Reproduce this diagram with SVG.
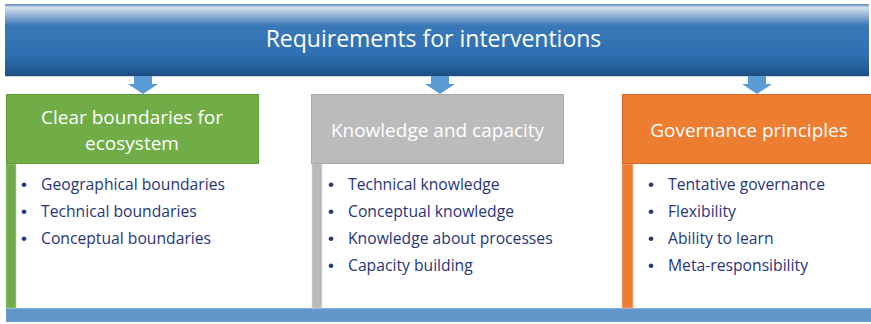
<svg xmlns="http://www.w3.org/2000/svg" width="871" height="324" viewBox="0 0 871 324">
  <defs>
    <linearGradient id="bannerGrad" x1="0" y1="0" x2="0" y2="1">
      <stop offset="0" stop-color="#5a86b8"/>
      <stop offset="0.05" stop-color="#d6e2ef"/>
      <stop offset="0.12" stop-color="#a9c2de"/>
      <stop offset="0.3" stop-color="#3a78b8"/>
      <stop offset="0.7" stop-color="#2f70b2"/>
      <stop offset="0.9" stop-color="#255d98"/>
      <stop offset="1" stop-color="#1d4c7f"/>
    </linearGradient>
    <style>
      .head { font-family: "Open Sans", "Liberation Sans", sans-serif; fill: #ffffff; text-anchor: middle; font-size: 19px; }
      .item { font-family: "Open Sans", "Liberation Sans", sans-serif; font-size: 15.7px; fill: #26357a; }
      .dot { font-family: "Liberation Sans", sans-serif; font-size: 17px; fill: #26357a; }
      .panel { fill: #ffffff; }
      .arrow { fill: #5b9bd5; }
    </style>
  </defs>

  <rect width="871" height="324" fill="#ffffff"/>

  <g id="banner">
    <rect x="5" y="4" width="864" height="72" fill="url(#bannerGrad)"/>
    <line x1="5" y1="76.5" x2="869" y2="76.5" stroke="#c9d9ea" stroke-width="1"/>
    <text class="head" x="433.5" y="47" font-size="23" style="font-size:23px">Requirements for interventions</text>
  </g>

  <g id="connectors">
    <polygon class="arrow" points="134,76 152,76 152,84 158,84 143,94 128,84 134,84"/>
    <polygon class="arrow" points="431,76 449,76 449,84 455,84 440,94 425,84 431,84"/>
    <polygon class="arrow" points="748,76 766,76 766,84 772,84 757,94 742,84 748,84"/>
  </g>

  <g id="bottom-bar">
    <rect x="6" y="308" width="865" height="14" fill="#6297cb"/>
    <line x1="6" y1="308" x2="871" y2="308" stroke="#a9c4e2" stroke-width="1"/>
  </g>

  <g id="node-boundaries">
    <rect class="panel" x="16" y="164" width="295" height="144"/>
    <rect x="6" y="164" width="10" height="144" fill="#70ad47" stroke="#b8d4a6" stroke-width="0.6"/>
    <rect x="6.5" y="94.5" width="252" height="69" fill="#70ad47" stroke="#5f9a3b" stroke-width="1"/>
    <text class="head" x="132" y="124">Clear boundaries for</text>
    <text class="head" x="132" y="150">ecosystem</text>
    <text class="dot" x="21" y="190">•</text>
    <text class="item" x="41" y="190">Geographical boundaries</text>
    <text class="dot" x="21" y="217">•</text>
    <text class="item" x="41" y="217">Technical boundaries</text>
    <text class="dot" x="21" y="244">•</text>
    <text class="item" x="41" y="244">Conceptual boundaries</text>
  </g>

  <g id="node-knowledge">
    <rect class="panel" x="322" y="164" width="300" height="144"/>
    <rect x="312" y="164" width="10" height="144" fill="#b9b9b9" stroke="#dcdcdc" stroke-width="0.6"/>
    <rect x="311.5" y="94.5" width="252" height="69" fill="#bbbbbb" stroke="#a8a8a8" stroke-width="1"/>
    <text class="head" x="437.5" y="137">Knowledge and capacity</text>
    <text class="dot" x="328" y="190">•</text>
    <text class="item" x="348" y="190">Technical knowledge</text>
    <text class="dot" x="328" y="217">•</text>
    <text class="item" x="348" y="217">Conceptual knowledge</text>
    <text class="dot" x="328" y="244">•</text>
    <text class="item" x="348" y="244">Knowledge about processes</text>
    <text class="dot" x="328" y="271">•</text>
    <text class="item" x="348" y="271">Capacity building</text>
  </g>

  <g id="node-governance">
    <rect class="panel" x="633" y="164" width="240" height="144"/>
    <rect x="622" y="164" width="11" height="144" fill="#ed7d31" stroke="#f3c7a6" stroke-width="0.6"/>
    <rect x="622.5" y="94.5" width="250" height="69" fill="#ed7d31" stroke="#d4692a" stroke-width="1"/>
    <text class="head" x="749" y="137">Governance principles</text>
    <text class="dot" x="648" y="190">•</text>
    <text class="item" x="668" y="190">Tentative governance</text>
    <text class="dot" x="648" y="217">•</text>
    <text class="item" x="668" y="217">Flexibility</text>
    <text class="dot" x="648" y="244">•</text>
    <text class="item" x="668" y="244">Ability to learn</text>
    <text class="dot" x="648" y="271">•</text>
    <text class="item" x="668" y="271">Meta-responsibility</text>
  </g>
</svg>
